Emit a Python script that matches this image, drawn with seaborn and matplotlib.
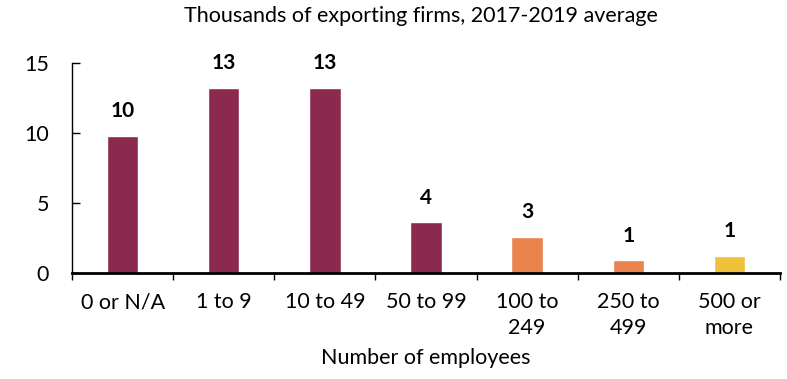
import matplotlib
matplotlib.use("Agg")
import matplotlib.pyplot as plt
import seaborn as sns
import pandas as pd
import numpy as np

# Exporting firms by employment size class (thousands, 2017-2019 average)
categories = ["0 or N/A", "1 to 9", "10 to 49", "50 to 99", "100 to\n249", "250 to\n499", "500 or\nmore"]
firms = [9.8, 13.2, 13.2, 3.6, 2.55, 0.9, 1.2]
labels = ["10", "13", "13", "4", "3", "1", "1"]
colors = ["#8B2A4E", "#8B2A4E", "#8B2A4E", "#8B2A4E", "#EB834E", "#EB834E", "#F0C13B"]

sns.set_theme(style="white")
plt.rcParams["font.family"] = ["Lato", "DejaVu Sans"]

df = pd.DataFrame({"size": categories, "firms": firms})

fig = plt.figure(figsize=(7.87, 3.79), dpi=100)
ax = fig.add_axes([0.0915, 0.28, 0.8995, 0.554])

sns.barplot(data=df, x="size", y="firms", hue="size", palette=colors,
            width=0.31, legend=False, ax=ax, saturation=1)

for patch, txt in zip(ax.patches, labels):
    x = patch.get_x() + patch.get_width() / 2
    ax.annotate(txt, (x, patch.get_height()), xytext=(0, 13.5), textcoords="offset points",
                ha="center", va="baseline", fontsize=15, fontweight="bold", color="black")

ax.set_ylim(0, 15)
ax.set_xlim(-0.5, len(categories) - 0.5)
ax.set_yticks([0, 5, 10, 15])
ax.tick_params(axis="y", left=True, direction="in", length=5.8, width=1,
               labelsize=15.5, pad=16.5, colors="black")
ax.tick_params(axis="x", length=0, labelsize=15.5, pad=14, colors="black")
ax.set_xticks(range(len(categories)))
ax.set_xticklabels(categories, linespacing=1.38)

# boundary ticks between categories on the x axis
ax.set_xticks(np.arange(-0.5, len(categories), 1.0), minor=True)
ax.tick_params(axis="x", which="minor", direction="out", length=5, width=1, color="black", bottom=True)

for side in ["top", "right"]:
    ax.spines[side].set_visible(False)
ax.spines["left"].set_color("black")
ax.spines["left"].set_linewidth(1)
ax.spines["bottom"].set_color("black")
ax.spines["bottom"].set_linewidth(2)

ax.set_xlabel("Number of employees", fontsize=15.5, labelpad=7, color="black")
ax.set_ylabel("")
fig.text(0.535, 0.957, "Thousands of exporting firms, 2017-2019 average",
         ha="center", va="center", fontsize=15.5, color="black")

fig.savefig("out.png", dpi=100)
